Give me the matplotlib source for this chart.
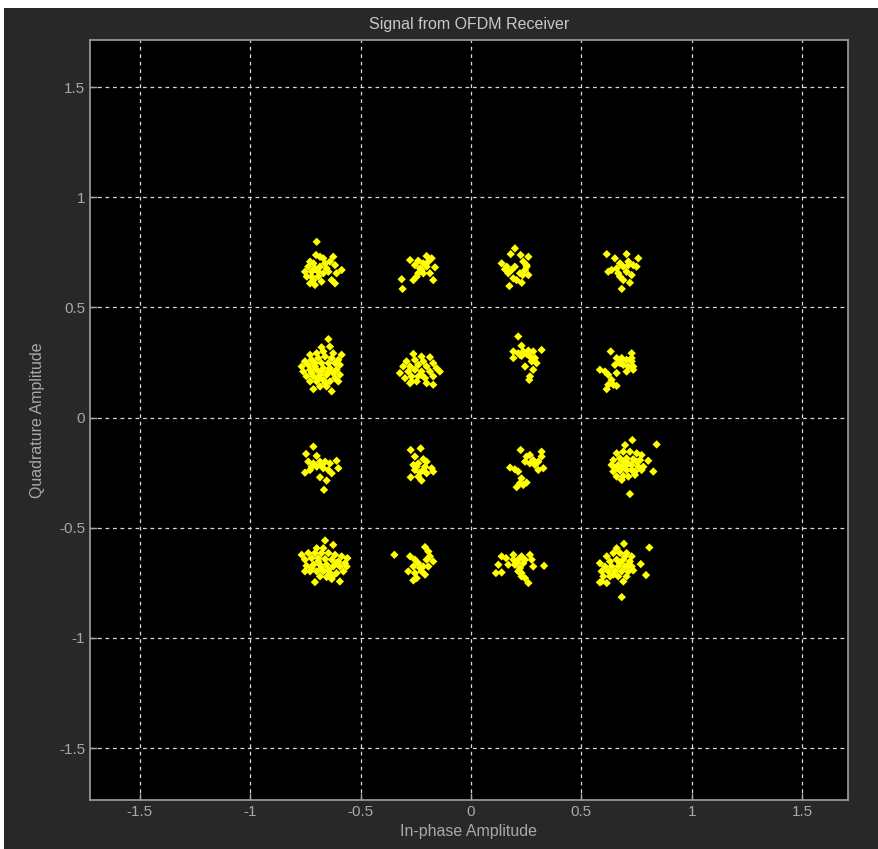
import matplotlib
matplotlib.use('Agg')
import matplotlib.pyplot as plt
from matplotlib.patches import Rectangle

# Received constellation points (in-phase, quadrature)
i_vals = [
    # (-0.67, 0.67)
    -0.699, -0.702, -0.684, -0.669, -0.624, -0.729, -0.714, -0.737, -0.752, -0.722,
    -0.707, -0.684, -0.661, -0.639, -0.616, -0.586, -0.609, -0.646, -0.669, -0.692,
    -0.714, -0.729, -0.707, -0.677, -0.631, -0.616, -0.654, -0.744, -0.692, -0.722,
    # (-0.22, 0.67)
    -0.276, -0.239, -0.201, -0.178, -0.216, -0.254, -0.231, -0.201, -0.163, -0.186,
    -0.216, -0.246, -0.261, -0.224, -0.171, -0.314, -0.310, -0.193, -0.239,
    # (-0.67, 0.22)
    -0.646, -0.677, -0.639, -0.729, -0.699, -0.669, -0.624, -0.586, -0.752, -0.722,
    -0.692, -0.661, -0.631, -0.601, -0.767, -0.737, -0.707, -0.677, -0.646, -0.616,
    -0.594, -0.760, -0.729, -0.699, -0.669, -0.639, -0.609, -0.745, -0.714, -0.684,
    -0.654, -0.624, -0.594, -0.729, -0.699, -0.669, -0.639, -0.684, -0.654, -0.714,
    -0.631, -0.661, -0.692, -0.601, -0.722, -0.677, -0.646, -0.707, -0.616,
    # (-0.22, 0.22)
    -0.261, -0.224, -0.186, -0.292, -0.254, -0.216, -0.171, -0.307, -0.276, -0.239,
    -0.201, -0.156, -0.322, -0.284, -0.254, -0.224, -0.186, -0.141, -0.299, -0.269,
    -0.239, -0.208, -0.171, -0.276, -0.246, -0.201, -0.171, -0.224, -0.269,
    # (0.22, 0.67)
    0.199, 0.180, 0.225, 0.260, 0.139, 0.162, 0.199, 0.237, 0.252, 0.245,
    0.184, 0.169, 0.222, 0.260, 0.192, 0.207, 0.230, 0.174, 0.234, 0.154, 0.252,
    # (0.67, 0.67)
    0.615, 0.652, 0.705, 0.758, 0.675, 0.713, 0.735, 0.750, 0.637, 0.622,
    0.660, 0.690, 0.705, 0.728, 0.675, 0.690, 0.720, 0.683, 0.667, 0.713,
    # (0.22, 0.22)
    0.214, 0.229, 0.192, 0.214, 0.237, 0.260, 0.282, 0.320, 0.192, 0.229,
    0.267, 0.290, 0.275, 0.297, 0.245, 0.282, 0.267, 0.264, 0.222, 0.252,
    # (0.67, 0.22)
    0.633, 0.728, 0.660, 0.683, 0.705, 0.728, 0.675, 0.652, 0.690, 0.728,
    0.735, 0.713, 0.584, 0.607, 0.622, 0.660, 0.705, 0.735, 0.637, 0.622,
    0.645, 0.660, 0.615, 0.675,
    # (-0.67, -0.22)
    -0.714, -0.747, -0.699, -0.737, -0.714, -0.684, -0.661, -0.639, -0.609, -0.752,
    -0.729, -0.699, -0.669, -0.646, -0.631, -0.601, -0.684, -0.654, -0.666, -0.722, -0.677,
    # (-0.22, -0.22)
    -0.273, -0.228, -0.254, -0.216, -0.201, -0.261, -0.239, -0.208, -0.178, -0.171,
    -0.254, -0.231, -0.201, -0.273, -0.239, -0.224, -0.216, -0.246,
    # (-0.67, -0.67)
    -0.661, -0.624, -0.699, -0.669, -0.767, -0.737, -0.707, -0.677, -0.646, -0.616,
    -0.586, -0.560, -0.752, -0.722, -0.692, -0.661, -0.631, -0.601, -0.571, -0.745,
    -0.714, -0.684, -0.654, -0.624, -0.594, -0.563, -0.729, -0.699, -0.669, -0.639,
    -0.609, -0.578, -0.684, -0.654, -0.624, -0.707, -0.594, -0.692, -0.646, -0.722,
    -0.609, -0.677, -0.631, -0.752,
    # (-0.22, -0.67)
    -0.347, -0.208, -0.193, -0.276, -0.186, -0.254, -0.201, -0.171, -0.239, -0.216,
    -0.261, -0.193, -0.284, -0.254, -0.224, -0.208, -0.246, -0.261, -0.231,
    # (0.22, -0.22)
    0.225, 0.320, 0.252, 0.267, 0.320, 0.245, 0.282, 0.305, 0.267, 0.177,
    0.199, 0.214, 0.305, 0.328, 0.229, 0.222, 0.252, 0.207, 0.237, 0.290,
    # (0.67, -0.22)
    0.731, 0.841, 0.698, 0.660, 0.690, 0.720, 0.751, 0.773, 0.645, 0.675,
    0.705, 0.735, 0.766, 0.803, 0.637, 0.667, 0.698, 0.728, 0.758, 0.781,
    0.645, 0.675, 0.705, 0.743, 0.773, 0.660, 0.690, 0.713, 0.743, 0.683,
    0.826, 0.720, 0.652, 0.713, 0.751, 0.690, 0.728, 0.683,
    # (0.22, -0.67)
    0.139, 0.159, 0.192, 0.229, 0.267, 0.192, 0.214, 0.245, 0.275, 0.124,
    0.169, 0.207, 0.237, 0.282, 0.331, 0.113, 0.139, 0.214, 0.229, 0.229,
    0.245, 0.260, 0.199, 0.222,
    # (0.67, -0.67)
    0.693, 0.808, 0.660, 0.615, 0.645, 0.675, 0.705, 0.728, 0.630, 0.660,
    0.690, 0.720, 0.584, 0.607, 0.637, 0.667, 0.698, 0.728, 0.769, 0.592,
    0.622, 0.652, 0.683, 0.713, 0.735, 0.600, 0.630, 0.667, 0.705, 0.584,
    0.615, 0.690, 0.793, 0.683, 0.675, 0.645, 0.713, 0.592, 0.698,
]

q_vals = [
    # (-0.67, 0.67)
    0.798, 0.738, 0.730, 0.723, 0.730, 0.708, 0.700, 0.685, 0.662, 0.662,
    0.677, 0.685, 0.700, 0.708, 0.692, 0.670, 0.655, 0.662, 0.655, 0.640,
    0.624, 0.609, 0.602, 0.617, 0.624, 0.609, 0.677, 0.640, 0.662, 0.640,
    # (-0.22, 0.67)
    0.715, 0.712, 0.733, 0.723, 0.700, 0.692, 0.677, 0.685, 0.682, 0.655,
    0.655, 0.640, 0.624, 0.670, 0.624, 0.628, 0.584, 0.708, 0.655,
    # (-0.67, 0.22)
    0.356, 0.319, 0.322, 0.285, 0.292, 0.300, 0.292, 0.285, 0.255, 0.262,
    0.270, 0.277, 0.270, 0.262, 0.232, 0.239, 0.247, 0.247, 0.247, 0.247,
    0.239, 0.209, 0.217, 0.217, 0.224, 0.224, 0.217, 0.187, 0.187, 0.194,
    0.194, 0.202, 0.194, 0.164, 0.164, 0.171, 0.164, 0.141, 0.141, 0.129,
    0.119, 0.156, 0.179, 0.164, 0.202, 0.209, 0.209, 0.232, 0.179,
    # (-0.22, 0.22)
    0.289, 0.277, 0.274, 0.255, 0.262, 0.255, 0.247, 0.232, 0.232, 0.239,
    0.232, 0.224, 0.202, 0.209, 0.217, 0.209, 0.209, 0.209, 0.179, 0.187,
    0.187, 0.179, 0.187, 0.156, 0.164, 0.156, 0.149, 0.194, 0.164,
    # (0.22, 0.67)
    0.768, 0.742, 0.738, 0.730, 0.700, 0.685, 0.685, 0.708, 0.692, 0.670,
    0.670, 0.655, 0.655, 0.647, 0.632, 0.624, 0.612, 0.597, 0.647, 0.673, 0.685,
    # (0.67, 0.67)
    0.742, 0.723, 0.742, 0.723, 0.700, 0.708, 0.692, 0.685, 0.670, 0.662,
    0.677, 0.685, 0.662, 0.647, 0.640, 0.624, 0.612, 0.584, 0.655, 0.692,
    # (0.22, 0.22)
    0.368, 0.326, 0.300, 0.292, 0.300, 0.304, 0.300, 0.307, 0.270, 0.280,
    0.277, 0.270, 0.255, 0.247, 0.232, 0.217, 0.187, 0.171, 0.285, 0.289,
    # (0.67, 0.22)
    0.300, 0.292, 0.270, 0.270, 0.262, 0.270, 0.255, 0.239, 0.239, 0.255,
    0.232, 0.232, 0.217, 0.209, 0.194, 0.202, 0.209, 0.217, 0.171, 0.149,
    0.149, 0.144, 0.129, 0.247,
    # (-0.67, -0.22)
    -0.132, -0.165, -0.174, -0.200, -0.208, -0.200, -0.200, -0.208, -0.196, -0.250,
    -0.238, -0.223, -0.230, -0.238, -0.253, -0.230, -0.271, -0.286, -0.328, -0.223, -0.215,
    # (-0.22, -0.22)
    -0.147, -0.140, -0.177, -0.189, -0.200, -0.215, -0.208, -0.223, -0.230, -0.245,
    -0.238, -0.250, -0.253, -0.271, -0.268, -0.286, -0.238, -0.223,
    # (-0.67, -0.67)
    -0.558, -0.578, -0.593, -0.593, -0.623, -0.615, -0.615, -0.615, -0.615, -0.623,
    -0.630, -0.638, -0.645, -0.638, -0.638, -0.642, -0.645, -0.653, -0.661, -0.673,
    -0.668, -0.668, -0.668, -0.676, -0.676, -0.676, -0.698, -0.698, -0.698, -0.706,
    -0.706, -0.698, -0.721, -0.724, -0.718, -0.747, -0.744, -0.653, -0.691, -0.683,
    -0.661, -0.683, -0.733, -0.698,
    # (-0.22, -0.67)
    -0.623, -0.588, -0.608, -0.630, -0.630, -0.645, -0.645, -0.653, -0.661, -0.676,
    -0.676, -0.676, -0.698, -0.706, -0.698, -0.713, -0.729, -0.739, -0.683,
    # (0.22, -0.22)
    -0.147, -0.155, -0.177, -0.170, -0.177, -0.200, -0.193, -0.200, -0.208, -0.227,
    -0.235, -0.245, -0.238, -0.230, -0.276, -0.298, -0.295, -0.316, -0.306, -0.215,
    # (0.67, -0.22)
    -0.102, -0.122, -0.125, -0.162, -0.155, -0.155, -0.162, -0.170, -0.193, -0.185,
    -0.185, -0.189, -0.193, -0.196, -0.215, -0.215, -0.215, -0.215, -0.223, -0.223,
    -0.245, -0.241, -0.238, -0.245, -0.238, -0.268, -0.265, -0.268, -0.260, -0.283,
    -0.245, -0.347, -0.230, -0.208, -0.200, -0.200, -0.238, -0.230,
    # (0.22, -0.67)
    -0.630, -0.638, -0.623, -0.630, -0.623, -0.645, -0.645, -0.645, -0.645, -0.668,
    -0.668, -0.661, -0.661, -0.676, -0.673, -0.706, -0.703, -0.698, -0.706, -0.721,
    -0.729, -0.751, -0.668, -0.683,
    # (0.67, -0.67)
    -0.573, -0.590, -0.593, -0.630, -0.615, -0.615, -0.615, -0.630, -0.653, -0.645,
    -0.645, -0.653, -0.661, -0.676, -0.676, -0.676, -0.676, -0.676, -0.665, -0.698,
    -0.698, -0.698, -0.698, -0.698, -0.694, -0.721, -0.721, -0.721, -0.721, -0.748,
    -0.751, -0.744, -0.715, -0.815, -0.661, -0.713, -0.668, -0.744, -0.630,
]

ticks = [-1.5, -1, -0.5, 0, 0.5, 1, 1.5]
tick_labels = ['-1.5', '-1', '-0.5', '0', '0.5', '1', '1.5']

plt.rcParams['font.family'] = ['Liberation Sans', 'DejaVu Sans']

fig = plt.figure(figsize=(8.79, 8.49), dpi=100, facecolor='white')
# dark scope panel (white strip left and top as in the screenshot)
panel = Rectangle((4 / 879, 0), 1, 1 - 8 / 849, transform=fig.transFigure,
                  facecolor='#282828', edgecolor='none', zorder=-10)
fig.add_artist(panel)

ax = fig.add_axes([90 / 879, 1 - 800 / 849, 758 / 879, 760 / 849])
ax.set_zorder(5)
ax.set_facecolor('black')
ax.scatter(i_vals, q_vals, marker='D', s=18, color='#ffff00', edgecolors='none', zorder=3)

ax.set_xlim(-1.726, 1.708)
ax.set_ylim(-1.736, 1.714)
ax.set_xticks(ticks)
ax.set_xticklabels(tick_labels)
ax.set_yticks(ticks)
ax.set_yticklabels(tick_labels)

ax.grid(True, color='#d8d8d8', linestyle=(0, (3, 3)), linewidth=0.9)
ax.tick_params(colors='#a8a8a8', labelsize=11, direction='in', length=5, width=1)
for s in ax.spines.values():
    s.set_color('#a0a0a0')
    s.set_linewidth(1.2)

ax.set_title('Signal from OFDM Receiver', color='#c8c8c8', fontsize=11.5, pad=8)
ax.set_xlabel('In-phase Amplitude', color='#a8a8a8', fontsize=11.5, labelpad=4)
ax.set_ylabel('Quadrature Amplitude', color='#a8a8a8', fontsize=11.5, labelpad=10)

fig.savefig('out.png', dpi=100, facecolor=fig.get_facecolor())
